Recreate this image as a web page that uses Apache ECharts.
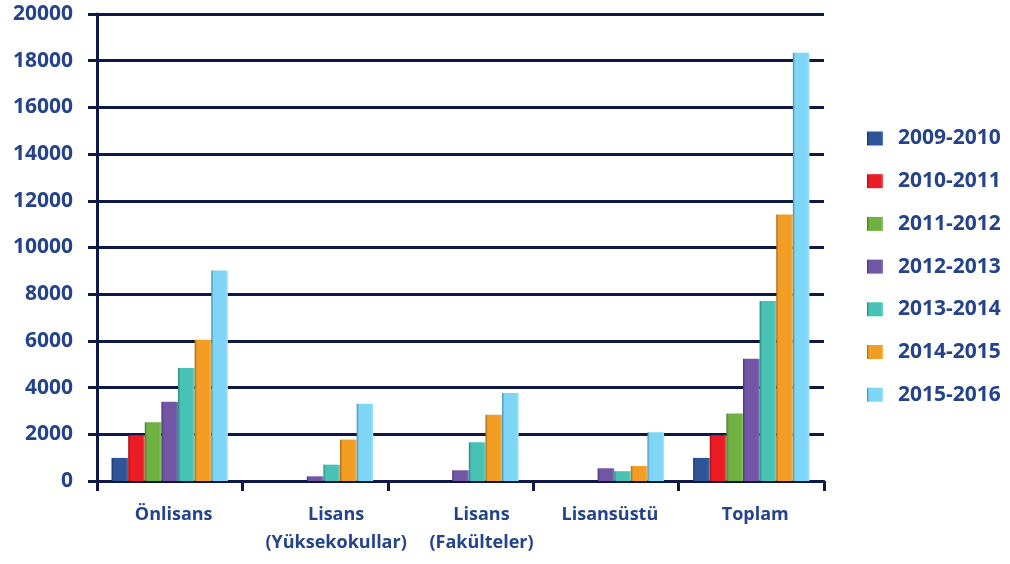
<!DOCTYPE html>
<html>
<head>
<meta charset="utf-8">
<script src="https://cdn.jsdelivr.net/npm/echarts@6/dist/echarts.min.js"></script>
<style>
html,body{margin:0;padding:0;background:#fff;}
#chart{width:1010px;height:564px;}
</style>
</head>
<body>
<div id="chart"></div>
<script>
const categories = ['Önlisans', 'Lisans\n(Yüksekokullar)', 'Lisans\n(Fakülteler)', 'Lisansüstü', 'Toplam'];
const seriesNames = ['2009-2010', '2010-2011', '2011-2012', '2012-2013', '2013-2014', '2014-2015', '2015-2016'];
const v2009 = [990, null, null, null, 990];
const v2010 = [1960, null, null, null, 1960];
const v2011 = [2520, null, null, null, 2890];
const v2012 = [3390, 200, 460, 545, 5240];
const v2013 = [4840, 700, 1660, 420, 7710];
const v2014 = [6050, 1775, 2840, 640, 11410];
const v2015 = [9020, 3310, 3770, 2090, 18340];
const yTicks = [0, 2000, 4000, 6000, 8000, 10000, 12000, 14000, 16000, 18000, 20000];

const values = [v2009, v2010, v2011, v2012, v2013, v2014, v2015];
const baseColors = ['#2E5597', '#EC1C24', '#6FB043', '#7255A5', '#48C2B4', '#F29D24', '#7ED5F6'];
const darkColors = ['#1C3566', '#A01015', '#467A26', '#4A3572', '#2A8378', '#A8661A', '#4B8FAA'];
const lightColors = ['#4A72B5', '#F55A5E', '#8CC665', '#8C72BD', '#6FD5C9', '#F7B655', '#A6E3FA'];

function grad(i) {
  return new echarts.graphic.LinearGradient(0, 0, 1, 0, [
    {offset: 0, color: darkColors[i]},
    {offset: 0.14, color: baseColors[i]},
    {offset: 0.85, color: baseColors[i]},
    {offset: 1, color: lightColors[i]}
  ]);
}

const textColor = '#24438A';
const lineColor = '#0E1846';
const fontFam = '"Open Sans", Lato, sans-serif';

const chart = echarts.init(document.getElementById('chart'), null, {renderer: 'canvas'});
chart.setOption({
  animation: false,
  backgroundColor: '#ffffff',
  grid: {left: 97, right: 186, top: 14, bottom: 83, containLabel: false},
  legend: {
    orient: 'vertical',
    left: 862,
    top: 123,
    itemWidth: 16,
    itemHeight: 14,
    itemGap: 21.7,
    icon: 'rect',
    data: seriesNames,
    textStyle: {color: textColor, fontSize: 21, fontWeight: 'bold', fontFamily: fontFam, lineHeight: 21, padding: [0, 0, 0, 10]}
  },
  xAxis: {
    type: 'category',
    data: categories,
    axisLine: {lineStyle: {color: lineColor, width: 3}},
    axisTick: {show: true, length: 10, lineStyle: {color: lineColor, width: 3}},
    axisLabel: {
      margin: 20,
      interval: 0,
      formatter: function (v) {
        const lines = v.split('\n');
        const s = lines.length > 1 ? 'b' : 'a';
        return lines.map(function (l) { return '{' + s + '|' + l + '}'; }).join('\n');
      },
      rich: {
        a: {color: textColor, fontSize: 18, fontWeight: 'bold', fontFamily: fontFam, lineHeight: 28, padding: [0, 0, 0, 8]},
        b: {color: textColor, fontSize: 18, fontWeight: 'bold', fontFamily: fontFam, lineHeight: 28, padding: [0, 0, 0, 42]}
      }
    }
  },
  yAxis: {
    type: 'value',
    min: yTicks[0],
    max: yTicks[yTicks.length - 1],
    interval: yTicks[1] - yTicks[0],
    axisLine: {show: true, lineStyle: {color: lineColor, width: 3}},
    axisTick: {show: true, length: 9, lineStyle: {color: lineColor, width: 3}},
    splitLine: {show: true, lineStyle: {color: lineColor, width: 3}},
    axisLabel: {
      margin: 24, color: textColor, fontSize: 21, fontWeight: 'bold', fontFamily: fontFam,
      formatter: function (v) { return String(v); }
    }
  },
  series: seriesNames.map(function (name, i) {
    return {
      name: name,
      type: 'bar',
      data: values[i],
      barGap: '0%',
      barCategoryGap: '20%',
      itemStyle: {color: grad(i)},
      z: 3
    };
  })
});
</script>
</body>
</html>
